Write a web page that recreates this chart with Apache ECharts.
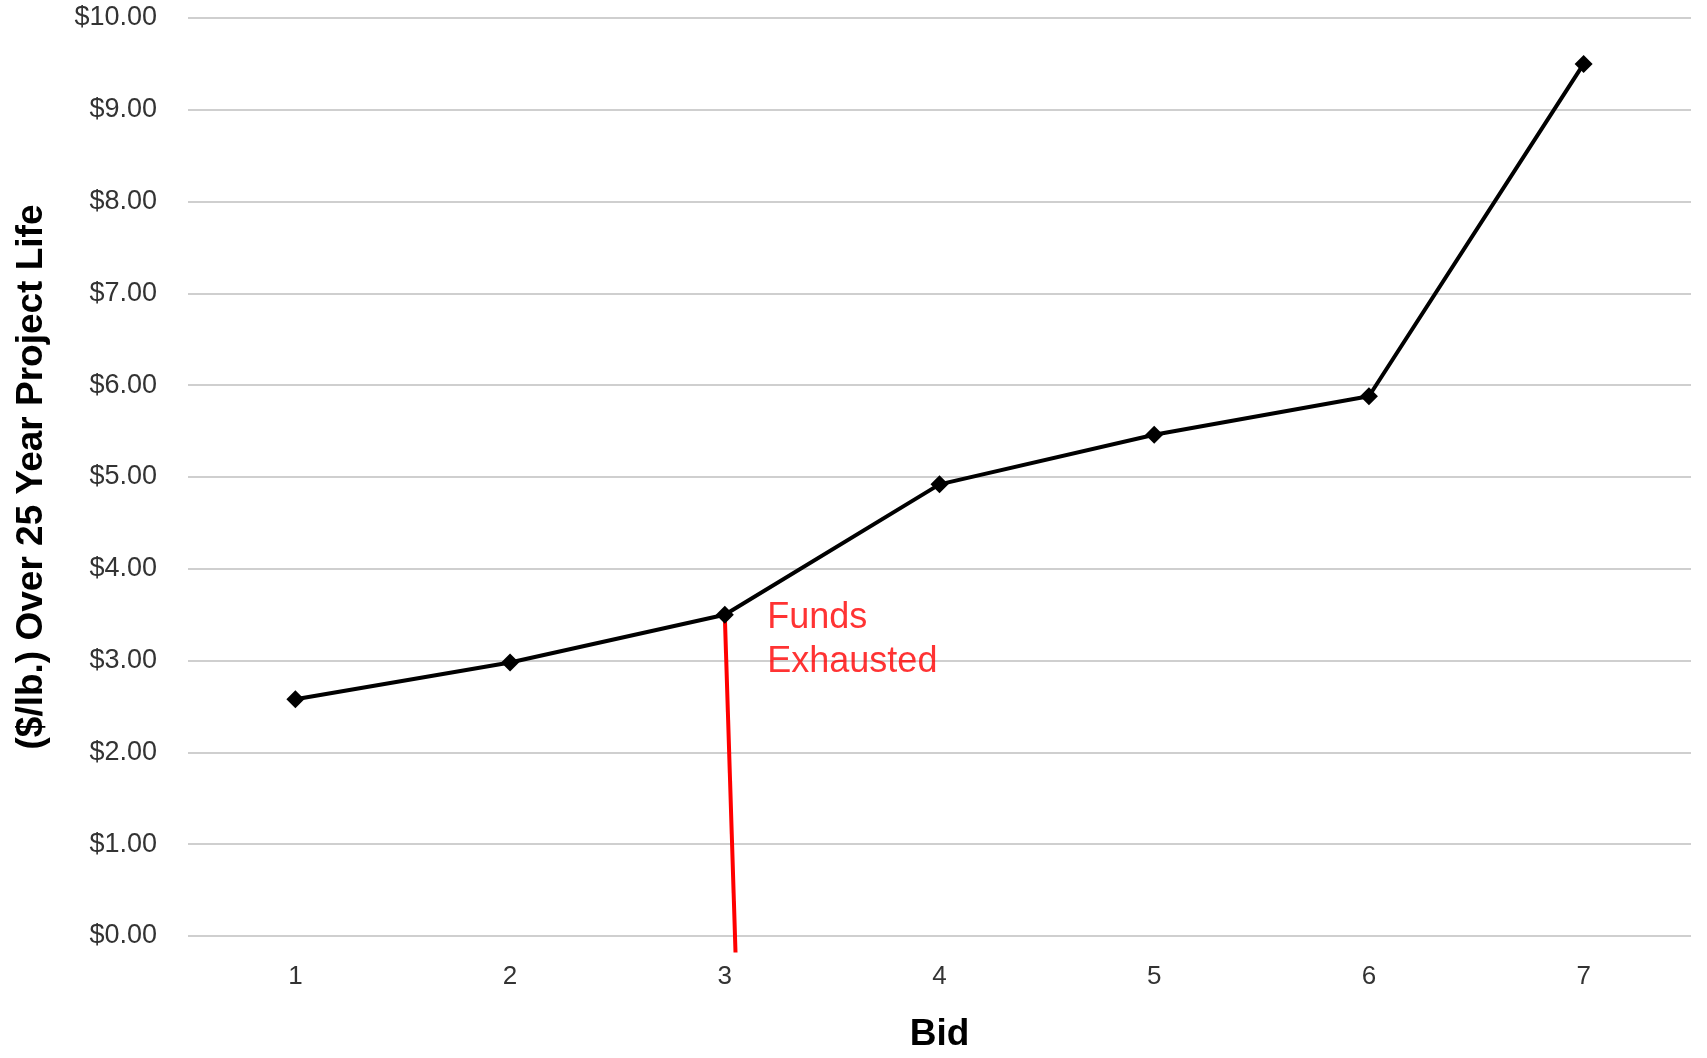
<!DOCTYPE html>
<html>
<head>
<meta charset="utf-8">
<script src="https://cdn.jsdelivr.net/npm/echarts@6/dist/echarts.min.js"></script>
<style>
html,body{margin:0;padding:0;background:#fff;}
#chart{width:1707px;height:1058px;}
</style>
</head>
<body>
<div id="chart"></div>
<script>
const bids = ['1', '2', '3', '4', '5', '6', '7'];
const costPerLb = [2.58, 2.98, 3.50, 4.92, 5.46, 5.88, 9.50];
const fundsLineX = [3, 3.05];
const fundsLineY = [3.50, -0.18];
const fundsLabel = 'Funds\nExhausted';
const yTickMin = 0, yTickMax = 10, yTickStep = 1;

const FONT = '"Liberation Sans", Arial, sans-serif';
const chart = echarts.init(document.getElementById('chart'));
chart.setOption({
  backgroundColor: '#ffffff',
  animation: false,
  grid: { left: 188, right: 16, top: 18, bottom: 116 },
  xAxis: [
    {
      type: 'category',
      data: bids,
      boundaryGap: true,
      name: 'Bid',
      nameLocation: 'middle',
      nameGap: 80,
      nameTextStyle: { fontFamily: FONT, fontSize: 37, fontWeight: 'bold', color: '#000' },
      axisLine: { show: false },
      axisTick: { show: false },
      axisLabel: { fontFamily: FONT, fontSize: 26, color: '#333', margin: 28 },
      splitLine: { show: false }
    },
    {
      type: 'value',
      min: 0.5,
      max: 7.5,
      show: false
    }
  ],
  yAxis: {
    type: 'value',
    min: yTickMin,
    max: yTickMax,
    interval: yTickStep,
    name: '($/lb.) Over 25 Year Project Life',
    nameLocation: 'middle',
    nameGap: 138,
    nameTextStyle: { fontFamily: FONT, fontSize: 37, fontWeight: 'bold', color: '#000' },
    axisLine: { show: false },
    axisTick: { show: false },
    axisLabel: {
      fontFamily: FONT, fontSize: 27, color: '#333', margin: 31,
      formatter: v => '$' + v.toFixed(2)
    },
    splitLine: { show: true, lineStyle: { color: '#cfcfcf', width: 2 } }
  },
  series: [
    {
      type: 'line',
      xAxisIndex: 1,
      data: fundsLineX.map((x, i) => [x, fundsLineY[i]]),
      symbol: 'none',
      clip: false,
      lineStyle: { color: '#ff0000', width: 4 },
      z: 1,
      silent: true
    },
    {
      type: 'scatter',
      xAxisIndex: 1,
      data: [[fundsLineX[0], fundsLineY[0]]],
      symbolSize: 1,
      itemStyle: { color: 'transparent' },
      label: {
        show: true,
        formatter: fundsLabel,
        position: 'right',
        distance: 42,
        offset: [0, 25],
        align: 'left',
        fontFamily: FONT,
        fontSize: 36,
        lineHeight: 44,
        color: '#ff0000'
      },
      z: 1,
      silent: true
    },
    {
      type: 'line',
      data: costPerLb,
      symbol: 'diamond',
      symbolSize: 18,
      itemStyle: { color: '#000' },
      lineStyle: { color: '#000', width: 4 },
      z: 3
    }
  ]
});
</script>
</body>
</html>
